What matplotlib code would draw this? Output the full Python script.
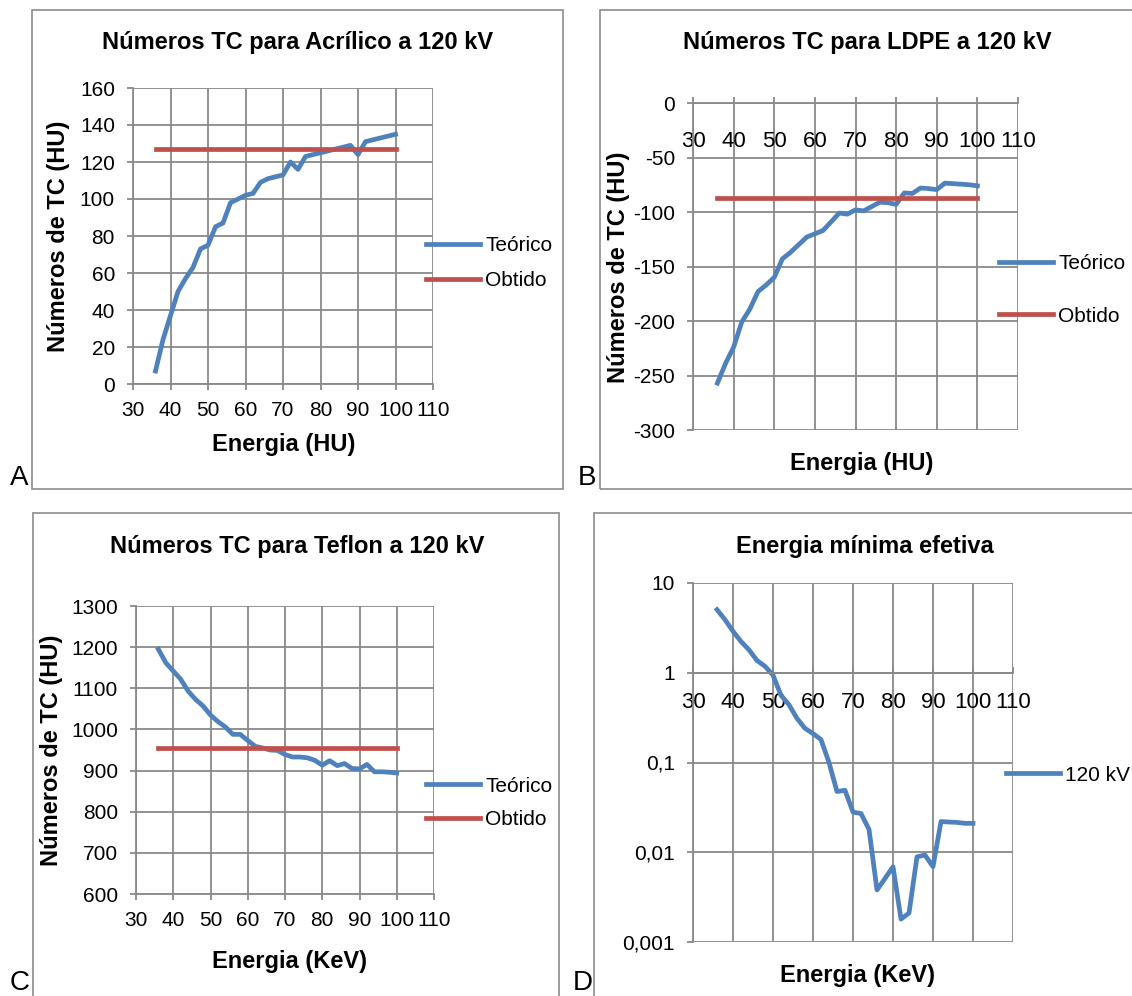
import matplotlib
matplotlib.use("Agg")
import matplotlib.pyplot as plt
from matplotlib.patches import Rectangle
from matplotlib.ticker import FixedLocator, FixedFormatter, NullLocator

plt.rcParams['font.family'] = ['Liberation Sans', 'DejaVu Sans']
plt.rcParams['axes.unicode_minus'] = False

W, H = 1132, 996

# energias (keV)
energia = [36, 38, 40, 42, 44, 46, 48, 50, 52, 54, 56, 58, 60, 62, 64, 66, 68,
           70, 72, 74, 76, 78, 80, 82, 84, 86, 88, 90, 92, 94, 96, 98, 100]

# A - Acrilico
teorico_a = [7, 24, 37, 50, 57, 63, 73, 75, 85, 87, 98, 100, 102, 103, 109, 111, 112,
             113, 120, 116, 123, 124, 125, 126, 127, 128, 129, 124, 131, 132, 133, 134, 135]
obtido_a = [127, 127]

# B - LDPE
teorico_b = [-257, -239, -224, -201, -189, -173, -167, -160, -143, -137, -130, -123, -120,
             -117, -109, -101, -102, -98, -99, -95, -91, -91.5, -93, -82.5, -83, -78, -78.5,
             -79.5, -73.5, -74, -74.5, -75, -76]
obtido_b = [-87, -87]

# C - Teflon
teorico_c = [1195, 1162, 1142, 1122, 1093, 1073, 1057, 1035, 1019, 1006, 988, 988, 973,
             959, 955, 950, 949, 939, 933, 933, 931, 925, 913, 924, 912, 917, 905, 904,
             915, 897, 897, 896, 894]
obtido_c = [954, 954]

# D - energia minima efetiva
kv120_d = [5.05, 3.9, 2.9, 2.23, 1.8, 1.37, 1.18, 0.94, 0.56, 0.44, 0.31, 0.24, 0.21,
           0.18, 0.10, 0.0475, 0.049, 0.028, 0.027, 0.018, 0.0038, 0.0051, 0.0069,
           0.0018, 0.0021, 0.0089, 0.0093, 0.0069, 0.022, 0.0217, 0.0215, 0.021, 0.021]

obtido_x = [36, 100]
xticks = [30, 40, 50, 60, 70, 80, 90, 100, 110]

BLUE = '#4F81BD'
RED = '#C0504D'
GRAY = '#898989'


def fx(x):
    return x / W


def fy(y):
    return 1 - y / H


def make_ax(l, r, t, b):
    ax = fig.add_axes([fx(l), fy(b), (r - l) / W, (b - t) / H])
    for s in ['top', 'right']:
        ax.spines[s].set_visible(False)
    for s in ['left', 'bottom']:
        ax.spines[s].set_color(GRAY)
        ax.spines[s].set_linewidth(1.3)
    ax.grid(True, color=GRAY, linewidth=1.3)
    ax.set_axisbelow(True)
    ax.tick_params(colors=GRAY, labelcolor='black', labelsize=15, length=4, width=1.3)
    ax.tick_params(axis='y', pad=9)
    ax.tick_params(axis='x', pad=8)
    ax.set_xlim(30, 110)
    ax.xaxis.set_major_locator(FixedLocator(xticks))
    return ax


fig = plt.figure(figsize=(W / 100, H / 100), dpi=100)

# caixas
box_kw = dict(transform=fig.transFigure, fill=False, edgecolor='#8c8c8c', linewidth=1.2)
for (l, t, r, b) in [(32, 10, 563, 489), (600, 10, 1140, 489),
                     (33, 513, 559, 1010), (594, 513, 1140, 1010)]:
    fig.patches.append(Rectangle((fx(l), fy(b)), (r - l) / W, (b - t) / H, **box_kw))

lw = 3.4
leg_kw = dict(loc='center left', bbox_transform=fig.transFigure, frameon=False,
              fontsize=15, borderpad=0, borderaxespad=0, handlelength=2.6,
              handletextpad=0.25)

# A
ax = make_ax(133, 433, 88, 384)
ax.plot(energia, teorico_a, color=BLUE, lw=lw, label='Teórico', solid_joinstyle='round')
ax.plot(obtido_x, obtido_a, color=RED, lw=lw, label='Obtido')
ax.set_ylim(0, 160)
ax.set_yticks(range(0, 161, 20))
ax.legend(bbox_to_anchor=(fx(426), fy(263)), labelspacing=0.75, **leg_kw)

# B
ax = make_ax(693, 1018, 103, 430)
ax.plot(energia, teorico_b, color=BLUE, lw=lw, label='Teórico', solid_joinstyle='round')
ax.plot(obtido_x, obtido_b, color=RED, lw=lw, label='Obtido')
ax.set_ylim(-300, 0)
ax.set_yticks(range(-300, 1, 50))
ax.spines['bottom'].set_position(('data', 0))
ax.tick_params(axis='x', direction='in', pad=20, labelsize=16)
ax.legend(bbox_to_anchor=(fx(999), fy(290)), labelspacing=1.6, **leg_kw)

# C
ax = make_ax(136, 434, 606, 894)
ax.plot(energia, teorico_c, color=BLUE, lw=lw, label='Teórico', solid_joinstyle='round')
ax.plot(obtido_x, obtido_c, color=RED, lw=lw, label='Obtido')
ax.set_ylim(600, 1300)
ax.set_yticks(range(600, 1301, 100))
ax.legend(bbox_to_anchor=(fx(426), fy(803)), labelspacing=0.7, **leg_kw)

# D
ax = make_ax(693, 1013, 583, 942)
ax.plot(energia, kv120_d, color=BLUE, lw=lw, label='120 kV', solid_joinstyle='round')
ax.set_yscale('log')
ax.set_ylim(0.001, 10)
ax.yaxis.set_major_locator(FixedLocator([0.001, 0.01, 0.1, 1, 10]))
ax.yaxis.set_major_formatter(FixedFormatter(['0,001', '0,01', '0,1', '1', '10']))
ax.yaxis.set_minor_locator(NullLocator())
ax.spines['bottom'].set_position(('data', 1))
ax.tick_params(axis='x', direction='in', pad=14, labelsize=16)
ax.legend(bbox_to_anchor=(fx(1006), fy(775)), **leg_kw)

# titulos e rotulos
bold = dict(fontsize=17, fontweight='bold', ha='center', va='center')
fig.text(fx(298), fy(43), 'Números TC para Acrílico a 120 kV', **bold)
fig.text(fx(867), fy(43), 'Números TC para LDPE a 120 kV', **bold)
fig.text(fx(297), fy(547), 'Números TC para Teflon a 120 kV', **bold)
fig.text(fx(865), fy(547), 'Energia mínima efetiva', **bold)

fig.text(fx(284), fy(444), 'Energia (HU)', **bold)
fig.text(fx(862), fy(463), 'Energia (HU)', **bold)
fig.text(fx(290), fy(961), 'Energia (KeV)', **bold)
fig.text(fx(857), fy(975), 'Energia (KeV)', **bold)

fig.text(fx(58), fy(236), 'Números de TC (HU)', rotation=90, **bold)
fig.text(fx(618), fy(267), 'Números de TC (HU)', rotation=90, **bold)
fig.text(fx(52), fy(750), 'Números de TC (HU)', rotation=90, **bold)

letra = dict(fontsize=20, ha='center', va='center')
fig.text(fx(19), fy(478), 'A', **letra)
fig.text(fx(587), fy(478), 'B', **letra)
fig.text(fx(20), fy(983), 'C', **letra)
fig.text(fx(583), fy(983), 'D', **letra)

fig.savefig('out.png', dpi=100)
